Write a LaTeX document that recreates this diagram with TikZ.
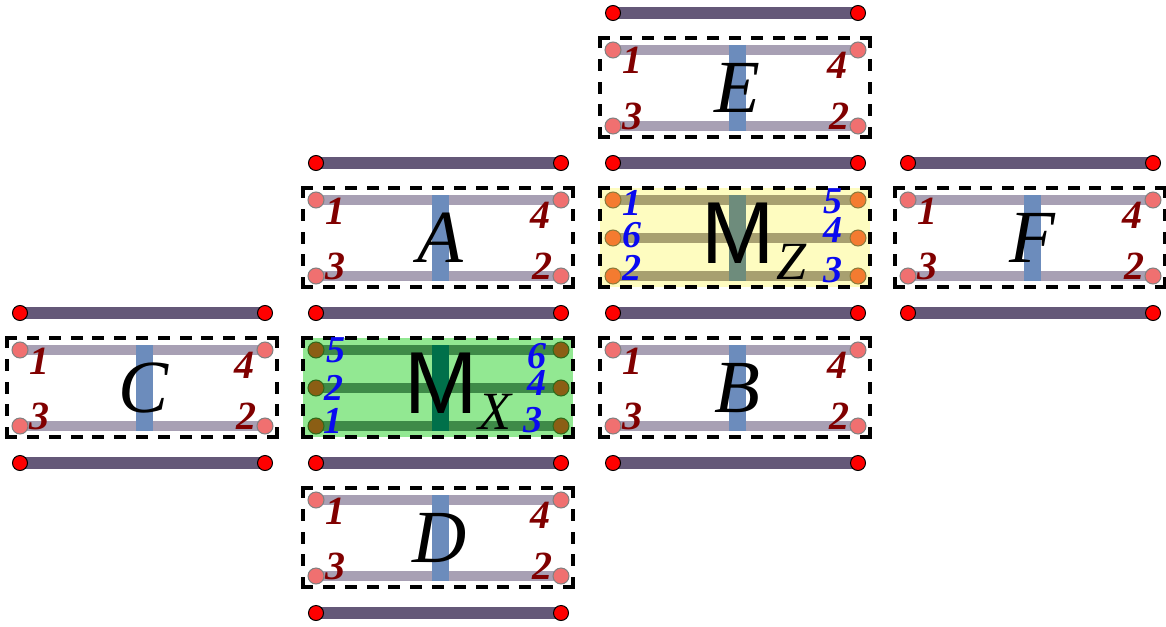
\documentclass[tikz,border=0pt]{standalone}
\usepackage{fontspec}
\setmainfont{Liberation Serif}
\newfontfamily\msansfont{Liberation Sans}
\pgfdeclarelayer{bg}
\pgfdeclarelayer{mid}
\pgfsetlayers{bg,mid,main}
\definecolor{darkbar}{HTML}{645878}
\definecolor{lightbar}{HTML}{A8A0B4}
\definecolor{vbarcol}{HTML}{6C8CBC}
\definecolor{pinkc}{HTML}{F07070}
\definecolor{digred}{HTML}{800000}
\definecolor{digblue}{HTML}{0A0AF0}
\definecolor{yfill}{HTML}{FEFCC0}
\definecolor{ybar}{HTML}{A8A070}
\definecolor{yvbar}{HTML}{6E8C7C}
\definecolor{ycirc}{HTML}{F47B30}
\definecolor{ycircb}{HTML}{8A7A3A}
\definecolor{gfill}{HTML}{92E892}
\definecolor{gbar}{HTML}{3E8A48}
\definecolor{gvbar}{HTML}{00704A}
\definecolor{gcirc}{HTML}{8B5E14}
\definecolor{gcircb}{HTML}{2E6A1A}
\newcommand\digfont{\fontsize{40}{40}\selectfont\bfseries\itshape}
\newcommand\bluedigfont{\fontsize{38}{38}\selectfont\bfseries\itshape}
\tikzset{
  redpt/.style={circle,fill=red,draw=black,line width=1pt,minimum size=15pt,inner sep=0pt},
  pinkpt/.style={circle,fill=pinkc,draw=gray,line width=1pt,minimum size=16pt,inner sep=0pt},
  mpt/.style={circle,line width=1pt,minimum size=16pt,inner sep=0pt},
  darkline/.style={line width=11.5pt,draw=darkbar},
  lightline/.style={line width=10.5pt,draw=lightbar},
  vline/.style={line width=16.5pt,draw=vbarcol},
  cellbox/.style={minimum width=270pt,minimum height=99pt,inner sep=0pt,outer sep=0pt},
  hdash/.style={draw=black,line width=3.5pt,line cap=rect,dash pattern=on 8.5pt off 13.29pt},
  vdash/.style={draw=black,line width=3.5pt,line cap=rect,dash pattern=on 8.5pt off 14.125pt},
  rednum/.style={font=\digfont,text=digred,anchor=base,inner sep=0pt},
  bluenum/.style={font=\bluedigfont,text=digblue,anchor=base,inner sep=0pt},
  bigletter/.style={font=\fontsize{75}{75}\selectfont\itshape,anchor=base,inner sep=0pt},
  bigm/.style={font=\msansfont\fontsize{88}{88}\selectfont,anchor=base,inner sep=0pt},
  subletter/.style={font=\fontsize{54}{54}\selectfont\itshape,anchor=base,inner sep=0pt},
}
\newcommand\railbar[3]{%
  \node[redpt] (#1a) at ({#2+13},{#3}) {};
  \node[redpt] (#1b) at ({#2+258},{#3}) {};
  \begin{pgfonlayer}{bg}
    \draw[darkline] (#1a.center) -- (#1b.center);
  \end{pgfonlayer}}
\newcommand\dashframe[1]{%
  \draw[hdash] (#1.north west) -- (#1.north east);
  \draw[hdash] (#1.south west) -- (#1.south east);
  \draw[vdash] (#1.north west) -- (#1.south west);
  \draw[vdash] (#1.north east) -- (#1.south east);}
\newcommand\plaincell[4]{%
  \node[cellbox] (#1) at ({#2+135},{#3+74.5}) {};
  \dashframe{#1}
  \node[pinkpt] (#1n1) at ({#2+13},{#3+37}) {};
  \node[pinkpt] (#1n4) at ({#2+258},{#3+37}) {};
  \node[pinkpt] (#1n3) at ({#2+13},{#3+113}) {};
  \node[pinkpt] (#1n2) at ({#2+258},{#3+113}) {};
  \coordinate (#1vt) at ({#2+137.5},{#3+32});
  \coordinate (#1vb) at ({#2+137.5},{#3+118});
  \begin{pgfonlayer}{bg}
    \draw[lightline] (#1n1.center) -- (#1n4.center);
    \draw[lightline] (#1n3.center) -- (#1n2.center);
  \end{pgfonlayer}
  \begin{pgfonlayer}{mid}
    \draw[vline] (#1vt) -- (#1vb);
  \end{pgfonlayer}
  \node[rednum] (#1d1) at ({#2+32},{#3+61}) {1};
  \node[rednum] (#1d4) at ({#2+237},{#3+65}) {4};
  \node[rednum] (#1d3) at ({#2+32},{#3+116}) {3};
  \node[rednum] (#1d2) at ({#2+239},{#3+116}) {2};
  \node[bigletter] (#1L) at ({#2+137},{#3+99}) {#4};}
\newcommand\mcell[5]{%
  \node[cellbox] (#1) at ({#2+135},{#3+74.5}) {};
  \node[mpt,fill=#4circ,draw=#4circb] (#1l1) at ({#2+13},{#3+37}) {};
  \node[mpt,fill=#4circ,draw=#4circb] (#1l2) at ({#2+13},{#3+75}) {};
  \node[mpt,fill=#4circ,draw=#4circb] (#1l3) at ({#2+13},{#3+113}) {};
  \node[mpt,fill=#4circ,draw=#4circb] (#1r1) at ({#2+258},{#3+37}) {};
  \node[mpt,fill=#4circ,draw=#4circb] (#1r2) at ({#2+258},{#3+75}) {};
  \node[mpt,fill=#4circ,draw=#4circb] (#1r3) at ({#2+258},{#3+113}) {};
  \coordinate (#1vt) at ({#2+137.5},{#3+32});
  \coordinate (#1vb) at ({#2+137.5},{#3+118});
  \begin{pgfonlayer}{bg}
    \fill[#4fill] (#1.south west) rectangle (#1.north east);
    \draw[line width=10.5pt,draw=#4bar] (#1l1.center) -- (#1r1.center);
    \draw[line width=10.5pt,draw=#4bar] (#1l2.center) -- (#1r2.center);
    \draw[line width=10.5pt,draw=#4bar] (#1l3.center) -- (#1r3.center);
  \end{pgfonlayer}
  \begin{pgfonlayer}{mid}
    \draw[line width=16.5pt,draw=#4vbar] (#1vt) -- (#1vb);
  \end{pgfonlayer}
  \dashframe{#1}
  \node[bigm] (#1M) at ({#2+138},{#3+100}) {M};
  \node[subletter] (#1S) at ({#2+192},{#3+116}) {#5};}
\begin{document}
\begin{tikzpicture}[x=1pt,y=-1pt]
\useasboundingbox (0,0) rectangle (1166,626);
% column C
\railbar{rc1}{7}{313}
\railbar{rc2}{7}{463}
\plaincell{C}{7}{313}{C}
% column A
\railbar{ra1}{303}{163}
\railbar{ra2}{303}{313}
\railbar{ra3}{303}{463}
\railbar{ra4}{303}{613}
\plaincell{A}{303}{163}{A}
\mcell{MX}{303}{313}{g}{X}
\plaincell{D}{303}{463}{D}
% column E
\railbar{re1}{600}{13}
\railbar{re2}{600}{163}
\railbar{re3}{600}{313}
\railbar{re4}{600}{463}
\plaincell{E}{600}{13}{E}
\mcell{MZ}{600}{163}{y}{Z}
\plaincell{B}{600}{313}{B}
% column F
\railbar{rf1}{895}{163}
\railbar{rf2}{895}{313}
\plaincell{F}{895}{163}{F}
% digits of M_Z
\node[bluenum] (MZd1) at (632,215) {1};
\node[bluenum] (MZd6) at (632,247) {6};
\node[bluenum] (MZd2) at (632,280) {2};
\node[bluenum] (MZd5) at (833,213) {5};
\node[bluenum] (MZd4) at (833,242) {4};
\node[bluenum] (MZd3) at (833,282) {3};
% digits of M_X
\node[bluenum] (MXd5) at (336,362) {5};
\node[bluenum] (MXd2) at (334,400) {2};
\node[bluenum] (MXd1) at (333,433) {1};
\node[bluenum] (MXd6) at (537,368) {6};
\node[bluenum] (MXd4) at (537,395) {4};
\node[bluenum] (MXd3) at (533,432) {3};
\end{tikzpicture}
\end{document}
